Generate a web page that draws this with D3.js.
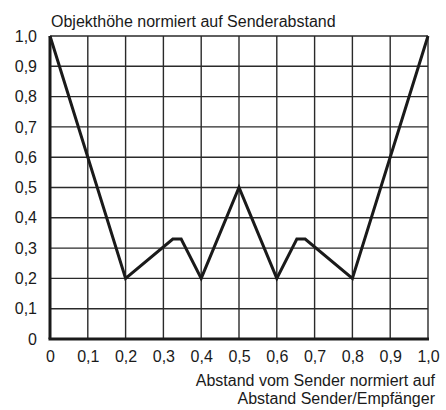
<!DOCTYPE html>
<html>
<head>
<meta charset="utf-8">
<script src="https://cdn.jsdelivr.net/npm/d3@7"></script>
<style>
  body { margin: 0; background: #fff; }
  svg text { font-family: "Liberation Sans", Arial, Helvetica, sans-serif; fill: #1a1a1a; }
</style>
</head>
<body>
<svg id="chart" width="446" height="410"></svg>
<script>
// data
const xValues = [0, 0.2, 0.325, 0.347, 0.4, 0.5, 0.6, 0.653, 0.675, 0.8, 1.0];
const yValues = [1.0, 0.2, 0.33, 0.33, 0.2, 0.5, 0.2, 0.33, 0.33, 0.2, 1.0];
const xTicks = [0, 0.1, 0.2, 0.3, 0.4, 0.5, 0.6, 0.7, 0.8, 0.9, 1.0];
const yTicks = [0, 0.1, 0.2, 0.3, 0.4, 0.5, 0.6, 0.7, 0.8, 0.9, 1.0];
const yTitle = 'Objekthöhe normiert auf Senderabstand';
const xTitle = ['Abstand vom Sender normiert auf', 'Abstand Sender/Empfänger'];

const fmt = v => v === 0 ? '0' : d3.format('.1f')(v).replace('.', ',');

const margin = { top: 36, right: 18, bottom: 71, left: 50 };
const width = 446, height = 410;
const fontSize = '16px';

const svg = d3.select('#chart');

const x = d3.scaleLinear().domain([0, 1]).range([margin.left, width - margin.right]);
const y = d3.scaleLinear().domain([0, 1]).range([height - margin.bottom, margin.top]);

// grid
const grid = svg.append('g').attr('stroke', '#2a2a2a').attr('stroke-width', 1.4);
grid.selectAll('line.v').data(xTicks.slice(1)).join('line')
  .attr('class', 'v')
  .attr('x1', d => x(d)).attr('x2', d => x(d))
  .attr('y1', y(0)).attr('y2', y(1));
grid.selectAll('line.h').data(yTicks.slice(1)).join('line')
  .attr('class', 'h')
  .attr('x1', x(0)).attr('x2', x(1))
  .attr('y1', d => y(d)).attr('y2', d => y(d));

// axes
svg.append('g')
  .attr('transform', `translate(0,${y(0)})`)
  .call(d3.axisBottom(x).tickValues(xTicks).tickFormat(fmt).tickSize(0).tickPadding(12))
  .call(g => g.select('.domain').attr('stroke', '#1a1a1a').attr('stroke-width', 3).attr('d', `M${x(0) - 1.5},0H${x(1) + 1}`))
  .call(g => g.selectAll('text').attr('font-size', fontSize).attr('fill', '#1a1a1a'))
  .attr('font-family', null);

svg.append('g')
  .attr('transform', `translate(${x(0)},0)`)
  .call(d3.axisLeft(y).tickValues(yTicks).tickFormat(fmt).tickSize(0).tickPadding(13))
  .call(g => g.select('.domain').attr('stroke', '#1a1a1a').attr('stroke-width', 3).attr('d', `M0,${y(0)}V${y(1)}`))
  .call(g => g.selectAll('text').attr('font-size', fontSize).attr('fill', '#1a1a1a'))
  .attr('font-family', null);

// line
const line = d3.line()
  .x((d, i) => x(xValues[i]))
  .y((d, i) => y(yValues[i]));

svg.append('path')
  .datum(xValues)
  .attr('fill', 'none')
  .attr('stroke', '#1a1a1a')
  .attr('stroke-width', 3)
  .attr('stroke-linejoin', 'miter')
  .attr('d', line);

// titles
svg.append('text')
  .attr('x', x(0) + 1)
  .attr('y', 27)
  .attr('font-size', fontSize)
  .text(yTitle);

svg.append('text')
  .attr('text-anchor', 'end')
  .attr('font-size', fontSize)
  .selectAll('tspan').data(xTitle).join('tspan')
  .attr('x', 435)
  .attr('y', (d, i) => 386 + i * 18)
  .text(d => d);
</script>
</body>
</html>
